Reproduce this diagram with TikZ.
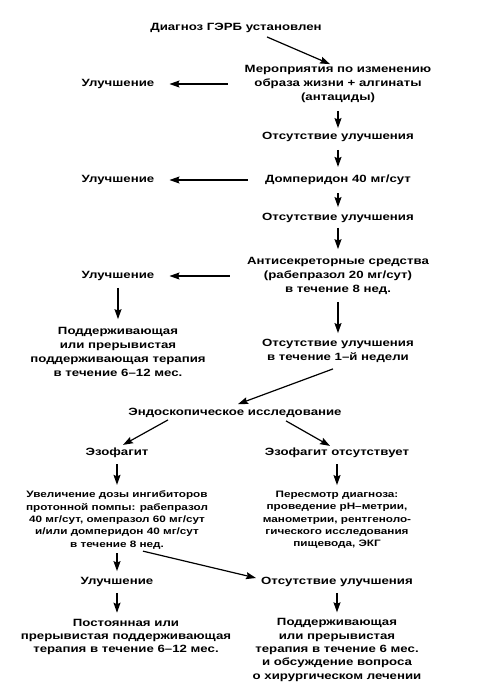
\documentclass[tikz,border=0pt]{standalone}
\usepackage{fontspec}
\setmainfont{Liberation Sans}[FakeStretch=1.26]
\usetikzlibrary{arrows.meta}

\begin{document}
\begin{tikzpicture}[x=1pt, y=-1pt,
        txt/.style = {align=center, inner sep=0pt, font=\bfseries\fontsize{10.5}{14}\selectfont},
        lowtxt/.style = {align=center, inner sep=0pt, font=\bfseries\fontsize{10.5}{13.4}\selectfont},
        smalltxt/.style = {align=center, inner sep=0pt, font=\bfseries\fontsize{9.3}{12.3}\selectfont},
        flow/.style = {line width=1.2pt, -{Stealth[length=10pt,width=7pt,inset=1.5pt]}}]
    \path[use as bounding box] (0,0) rectangle (498,694);
    \node [txt] (diag) at (236,28) {Диагноз ГЭРБ установлен};
    \node [txt] (life) at (338,84) {Мероприятия по изменению\\образа жизни + алгинаты\\(антациды)};
    \node [txt] (imp1) at (118,84) {Улучшение};
    \node [txt] (no1) at (338,137) {Отсутствие улучшения};
    \node [txt] (domp) at (338,180) {Домперидон 40 мг/сут};
    \node [txt] (imp2) at (118,180) {Улучшение};
    \node [txt] (no2) at (338,218) {Отсутствие улучшения};
    \node [txt] (anti) at (338,276) {Антисекреторные средства\\(рабепразол 20 мг/сут)\\в течение 8 нед.};
    \node [txt] (imp3) at (118,276) {Улучшение};
    \node [txt] (maint1) at (118,352) {Поддерживающая\\или прерывистая\\поддерживающая терапия\\в течение 6–12 мес.};
    \node [txt] (no3) at (338,351) {Отсутствие улучшения\\в течение 1–й недели};
    \node [txt] (endo) at (235,413) {Эндоскопическое исследование};
    \node [txt] (eso) at (117,453) {Эзофагит};
    \node [txt] (noeso) at (337,453) {Эзофагит отсутствует};
    \node [smalltxt] (dose) at (117,520) {Увеличение дозы ингибиторов\\протонной помпы: рабепразол\\40 мг/сут, омепразол 60 мг/сут\\и/или домперидон 40 мг/сут\\в течение 8 нед.};
    \node [smalltxt] (review) at (337,520) {Пересмотр диагноза:\\проведение рН–метрии,\\манометрии, рентгеноло-\\гического исследования\\пищевода, ЭКГ};
    \node [txt] (imp4) at (117,582) {Улучшение};
    \node [txt] (no4) at (337,582) {Отсутствие улучшения};
    \node [lowtxt] (perm) at (126,637) {Постоянная или\\прерывистая поддерживающая\\терапия в течение 6–12 мес.};
    \node [lowtxt] (maint2) at (337,650) {Поддерживающая\\или прерывистая\\терапия в течение 6 мес.\\и обсуждение вопроса\\о хирургическом лечении};

    \draw [flow] ([shift={(31,4)}]diag.south) -- ([shift={(-8,-1)}]life.north);
    \draw [flow, shorten <=17pt, shorten >=15pt] (life.west) -- (imp1.east);
    \draw [flow, shorten <=8pt, shorten >=4pt] (life.south) -- (no1.north);
    \draw [flow, shorten <=8pt, shorten >=8pt] (no1.south) -- (domp.north);
    \draw [flow, shorten <=17pt, shorten >=15pt] (domp.west) -- (imp2.east);
    \draw [flow, shorten <=8pt, shorten >=6pt] (domp.south) -- (no2.north);
    \draw [flow, shorten <=5pt, shorten >=8pt] (no2.south) -- (anti.north);
    \draw [flow, shorten <=17pt, shorten >=15pt] (anti.west) -- (imp3.east);
    \draw [flow, shorten <=7pt, shorten >=8pt] (imp3.south) -- (maint1.north);
    \draw [flow, shorten <=7pt, shorten >=6pt] (anti.south) -- (no3.north);
    \draw [flow] ([shift={(-5,6)}]no3.south) -- ([shift={(3,-4)}]endo.north);
    \draw [flow] ([shift={(-67,2)}]endo.south) -- ([shift={(6,-3)}]eso.north);
    \draw [flow] ([shift={(51,3)}]endo.south) -- ([shift={(-7,-2)}]noeso.north);
    \draw [flow, shorten <=6pt, shorten >=6pt] (eso.south) -- (dose.north);
    \draw [flow, shorten <=6pt, shorten >=6pt] (noeso.south) -- (review.north);
    \draw [flow, shorten <=4pt, shorten >=6pt] (dose.south) -- (imp4.north);
    \draw [flow] ([shift={(26,2)}]dose.south) -- ([shift={(-5,-4)}]no4.west);
    \draw [flow, shorten <=6pt, shorten >=6pt] (imp4.south) -- (imp4.south |- perm.north);
    \draw [flow, shorten <=6pt, shorten >=6pt] (no4.south) -- (maint2.north);
\end{tikzpicture}
\end{document}
